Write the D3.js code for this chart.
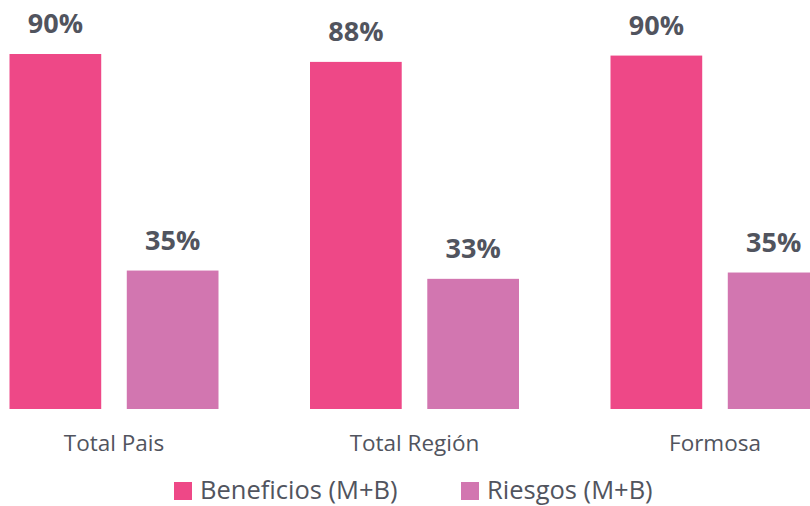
<!DOCTYPE html>
<html>
<head>
<meta charset="utf-8">
<script src="https://cdn.jsdelivr.net/npm/d3@7"></script>
<style>
  body { margin: 0; background: #fff; }
  svg text { font-family: "Open Sans", sans-serif; fill: #51545e; }
</style>
</head>
<body>
<div id="chart"></div>
<script>
// values
const categories = ['Total Pais', 'Total Región', 'Formosa'];
const seriesNames = ['Beneficios (M+B)', 'Riesgos (M+B)'];
const beneficios = [90, 88, 89.6];
const riesgos = [35.1, 33, 34.6];
const colors = ['#ee4887', '#d276b0'];

const width = 810, height = 506;
const baseY = 409;

const svg = d3.select('#chart')
  .append('svg')
    .attr('width', width)
    .attr('height', height);

// one group per category
const x0 = d3.scalePoint()
  .domain(categories)
  .range([114, 715]);

const x1 = d3.scaleBand()
  .domain(seriesNames)
  .range([-104.5, 104.5])
  .paddingInner(0.218);

const y = d3.scaleLinear()
  .domain([0, 90])
  .range([baseY, 54]);

const color = d3.scaleOrdinal()
  .domain(seriesNames)
  .range(colors);

const rows = categories.map((c, i) => ({
  cat: c,
  vals: [
    {key: seriesNames[0], v: beneficios[i]},
    {key: seriesNames[1], v: riesgos[i]}
  ]
}));

const groups = svg.append('g')
  .selectAll('g')
  .data(rows)
  .join('g')
    .attr('transform', d => `translate(${x0(d.cat)},0)`);

groups.selectAll('rect')
  .data(d => d.vals)
  .join('rect')
    .attr('x', d => x1(d.key))
    .attr('y', d => y(d.v))
    .attr('width', x1.bandwidth())
    .attr('height', d => baseY - y(d.v))
    .attr('fill', d => color(d.key));

// data labels
groups.selectAll('text.val')
  .data(d => d.vals)
  .join('text')
    .attr('class', 'val')
    .attr('x', d => x1(d.key) + x1.bandwidth() / 2)
    .attr('y', d => y(d.v) - 21)
    .attr('text-anchor', 'middle')
    .style('font-size', '27px')
    .style('font-weight', 'bold')
    .text(d => Math.round(d.v) + '%');

// category labels
svg.append('g')
  .selectAll('text')
  .data(categories)
  .join('text')
    .attr('x', d => x0(d))
    .attr('y', 451)
    .attr('text-anchor', 'middle')
    .style('font-size', '22.5px')
    .text(d => d);

// legend
const legendX = [174, 461];
const legend = svg.append('g')
  .selectAll('g')
  .data(seriesNames)
  .join('g')
    .attr('transform', (d, i) => `translate(${legendX[i]},482)`);

legend.append('rect')
  .attr('width', 18)
  .attr('height', 18)
  .attr('fill', d => color(d));

legend.append('text')
  .attr('x', 26)
  .attr('y', 17)
  .style('font-size', '25.5px')
  .text(d => d);
</script>
</body>
</html>
